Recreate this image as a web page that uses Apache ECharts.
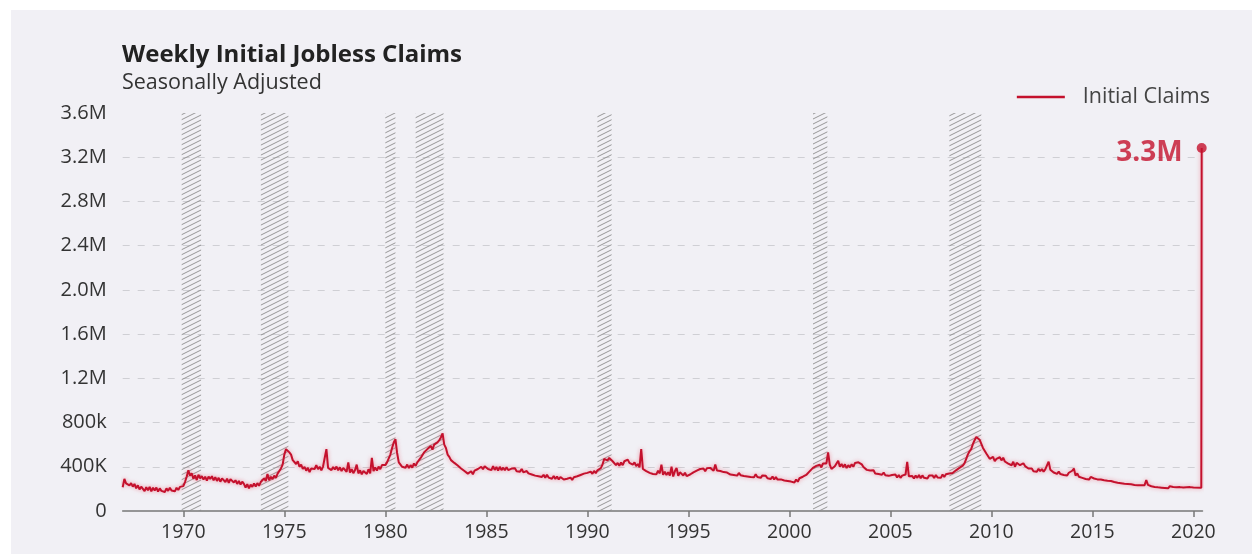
<!DOCTYPE html>
<html><head><meta charset="utf-8">
<script src="https://cdn.jsdelivr.net/npm/echarts@6/dist/echarts.min.js"></script>
<style>
html,body{margin:0;padding:0;background:#fff;width:1252px;height:554px;overflow:hidden}
#c{position:absolute;left:11px;top:10px;width:1241px;height:544px;background:#f1f0f5}
</style></head><body><div id="c"></div>
<script>
// Monthly initial claims (thousands)
const firstYear = 1967;
const claims1967_69 = [
  215,290,250,268,232,252,220,245,205,232,195,220,
  208,180,215,188,218,178,210,185,212,175,205,182,
  198,172,205,182,210,185,202,178,210,190,218,200];
const claims1970s = [
  225,262,310,368,320,340,292,322,280,328,295,315,
  285,310,275,312,290,315,278,305,272,300,265,295,
  285,262,292,255,288,300,258,278,245,272,240,265,
  245,212,242,205,238,218,250,222,252,228,262,275,
  295,272,335,278,310,288,320,300,338,340,385,420,
  510,560,575,530,510,460,460,425,450,400,420,380,
  400,365,390,352,385,400,380,415,378,400,368,402,
  420,560,390,408,370,398,375,402,368,395,362,390,
  385,355,440,348,378,342,370,420,340,368,332,362,
  370,335,378,340,480,360,395,365,402,378,415,398];
const claims1980s = [
  415,440,440,510,570,620,650,525,440,430,400,418,
  392,420,388,415,392,430,408,440,435,480,490,530,
  535,560,560,588,555,600,585,620,640,665,703,600,
  570,510,490,460,475,435,450,412,410,385,390,362,
  368,338,336,360,332,365,348,380,368,400,378,405,
  420,380,398,370,405,372,398,365,400,370,392,368,
  396,370,372,384,368,386,360,376,356,380,350,366,
  362,340,356,330,346,320,338,314,332,308,328,300,
  328,302,318,292,316,290,312,285,308,290,285,300,
  292,278,302,282,305,288,314,298,326,308,338,325];
const claims1990s = [
  345,332,356,336,362,342,368,356,388,420,470,480,
  458,480,486,450,450,415,435,410,438,415,450,455,
  465,435,452,420,440,405,425,395,560,380,385,360,
  372,345,360,335,352,332,365,340,420,328,356,325,
  350,320,400,312,360,390,318,350,368,322,346,315,
  305,330,314,350,334,366,350,380,362,385,360,386,
  368,390,374,364,420,366,366,362,354,352,346,348,
  352,330,346,326,342,320,344,324,338,316,334,312,
  328,308,326,306,332,308,322,300,322,306,318,296,
  308,290,312,285,306,284,302,286,298,276,292,272];
const claims2000s = [
  288,266,282,258,284,265,296,280,310,296,326,325,
  358,355,390,372,408,390,418,395,430,440,430,530,
  420,380,365,405,415,455,400,425,395,422,388,414,
  395,422,400,435,420,440,430,422,398,386,372,366,
  366,348,368,340,356,334,352,328,348,324,342,318,
  324,326,308,330,304,325,300,320,302,330,445,314,
  298,316,294,320,300,325,296,322,300,316,294,320,
  302,322,298,326,304,322,300,330,308,332,314,340,
  322,344,342,368,358,390,376,410,430,470,510,540,
  560,605,640,670,683,645,630,570,560,520,510,472];
const claims2010s = [
  478,490,450,472,455,486,458,482,448,458,428,442,
  414,446,400,436,445,414,404,432,406,406,384,398,
  384,360,376,356,382,360,380,356,376,360,447,374,
  376,348,362,336,356,334,350,326,342,322,346,328,
  364,384,320,340,310,326,300,316,290,304,284,308,
  296,294,284,286,286,284,274,278,272,274,266,272,
  276,262,274,255,272,252,266,247,262,245,258,242,
  254,236,252,234,249,232,246,234,280,236,238,224,
  236,218,234,214,229,211,224,208,222,205,224,211,
  218,214,214,212,216,214,212,209,214,212,216,204];
const claims2020 = [212,215];
const covidYears = [2020.39, 2020.41];
const covidClaims = [211, 3283];

const recessions = [
  [1969.92,1970.88],[1973.84,1975.2],[1980.0,1980.5],[1981.5,1982.88],
  [1990.5,1991.2],[2001.17,2001.88],[2007.92,2009.5]];

const yearTicks = [1970,1975,1980,1985,1990,1995,2000,2005,2010,2015,2020];
const yTickLabels = ['0','400K','800k','1.2M','1.6M','2.0M','2.4M','2.8M','3.2M','3.6M'];

// build series
const monthly = [].concat(claims1967_69, claims1970s, claims1980s, claims1990s, claims2000s, claims2010s, claims2020);
const lineData = monthly.map((v,i)=>[firstYear + i/12, v*1000]);
covidYears.forEach((y,i)=>lineData.push([y, covidClaims[i]*1000]));
const last = lineData[lineData.length-1];

// hatch pattern
const pc = document.createElement('canvas');
pc.width = 10; pc.height = 5;
const g = pc.getContext('2d');
g.strokeStyle = '#8c8c8c'; g.lineWidth = 0.9;
[-5,0,5].forEach(o=>{g.beginPath(); g.moveTo(-2, 6+o); g.lineTo(12, -1+o); g.stroke();});

const RED = '#c4112d';
const FONT = '"Open Sans", Lato, sans-serif';
const chart = echarts.init(document.getElementById('c'), null, {renderer:'canvas'});
chart.setOption({
  backgroundColor: '#f1f0f5',
  animation: false,
  title: {
    text: 'Weekly Initial Jobless Claims',
    subtext: 'Seasonally Adjusted',
    left: 111, top: 33, itemGap: 5, padding: 0,
    textStyle: {fontFamily: FONT, fontSize: 24, fontWeight: 'bold', color: '#222', lineHeight: 24},
    subtextStyle: {fontFamily: FONT, fontSize: 21.5, color: '#333', lineHeight: 22}
  },
  legend: {
    data: [{name: 'Initial Claims', icon: 'rect'}], right: 37, top: 71, itemWidth: 48, itemHeight: 2.5, itemGap: 10,
    textStyle: {fontFamily: FONT, fontSize: 21.5, color: '#444', padding:[0,0,0,13]}
  },
  grid: {left: 111.7, right: 49.5, top: 103, bottom: 43},
  xAxis: {
    type: 'value', min: 1967, max: 2020.45,
    axisLine: {show: true, lineStyle: {color: '#777', width: 1.5}},
    axisTick: {show: true, customValues: yearTicks, length: 6, lineStyle: {color: '#777', width: 1.5}},
    axisLabel: {customValues: yearTicks, formatter: v=>String(v), fontFamily: FONT, fontSize: 19.5, color: '#333', margin: 11},
    splitLine: {show: false}
  },
  yAxis: {
    type: 'value', min: 0, max: 3600000, interval: 400000,
    axisLine: {show: false}, axisTick: {show: false},
    axisLabel: {formatter: v=>yTickLabels[Math.round(v/400000)], fontFamily: FONT, fontSize: 20, color: '#333', margin: 16},
    splitLine: {show: true, showMinLine: false, showMaxLine: false, lineStyle: {color: '#cfcfd4', type: [7,8], width: 1}}
  },
  series: [
    {
      type: 'line', name: 'bands', data: [], z: 1, silent: true,
      markArea: {
        silent: true,
        itemStyle: {color: {image: pc, repeat: 'repeat'}},
        data: recessions.map(r=>[{xAxis: r[0], yAxis: 3600000}, {xAxis: r[1], yAxis: 0}])
      }
    },
    {
      type: 'line', name: 'Initial Claims', data: lineData, z: 3,
      showSymbol: false, symbol: 'none',
      lineStyle: {color: RED, width: 2, shadowColor: 'rgba(235,90,110,0.6)', shadowBlur: 4},
      itemStyle: {color: RED}
    },
    {
      type: 'scatter', name: 'last', data: [last], z: 4, symbolSize: 10,
      itemStyle: {color: RED},
      label: {show: true, position: 'left', distance: 14, offset: [0, 5],
        formatter: p=>(p.value[1]/1e6).toFixed(1)+'M',
        fontFamily: FONT, fontSize: 28, fontWeight: 'bold', color: RED}
    }
  ]
});
</script></body></html>
